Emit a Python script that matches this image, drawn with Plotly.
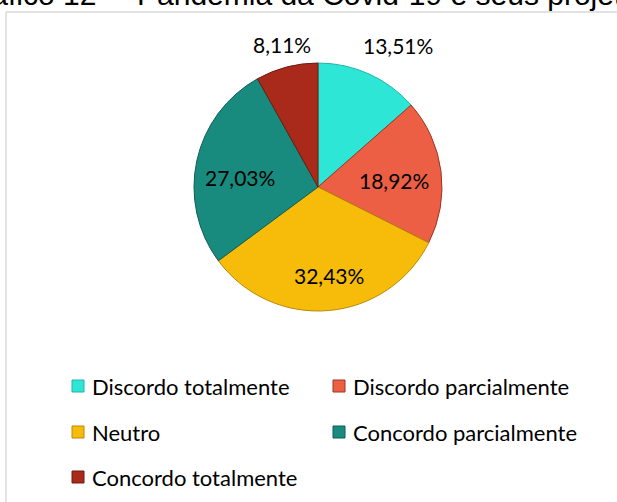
import math
import plotly.graph_objects as go

categories = ["Discordo totalmente", "Discordo parcialmente", "Neutro",
              "Concordo parcialmente", "Concordo totalmente"]
values = [13.51, 18.92, 32.43, 27.03, 8.11]
labels_text = ["13,51%", "18,92%", "32,43%", "27,03%", "8,11%"]
colors = ["#2EE6D6", "#EC5F45", "#F7BC0A", "#198A7E", "#A92A1B"]
edge_colors = ["#1FB5A8", "#9E3524", "#B98A06", "#0F5E55", "#6E1A10"]

W, H = 617, 502
FONT = "Lato"

def px(x):
    return x / W

def py(y):
    return 1 - y / H

cx, cy, r = 318, 187, 124
# label placement: radial distance (fraction of radius) plus a small pixel nudge
label_radius = [1.25, 0.62, 0.73, 0.69, 1.22]
label_nudge = [(16, 0), (0, 3), (3, -2), (6, 9), (2, 4)]

fig = go.Figure()
fig.add_trace(go.Pie(
    labels=categories,
    values=values,
    textinfo="none",
    sort=False,
    direction="clockwise",
    rotation=0,
    marker=dict(colors=colors, line=dict(color=edge_colors, width=1)),
    showlegend=False,
    hoverinfo="label+percent",
    domain=dict(x=[px(cx - r), px(cx + r)], y=[py(cy + r), py(cy - r)]),
))

border = dict(color="#D9D9D9", width=1.5)
shapes = [
    dict(type="line", xref="paper", yref="paper", x0=px(6), x1=1, y0=py(12), y1=py(12), line=border),
    dict(type="line", xref="paper", yref="paper", x0=px(6), x1=px(6), y0=py(12), y1=0, line=border),
]
title_font = dict(family="Liberation Sans", size=30, color="#000000")
annotations = [
    dict(xref="paper", yref="paper", x=px(124), y=py(13), xanchor="right", yanchor="bottom",
         showarrow=False, text="Gráfico 12 –", font=title_font),
    dict(xref="paper", yref="paper", x=px(135), y=py(13), xanchor="left", yanchor="bottom",
         showarrow=False, text="Pandemia da Covid-19 e seus projetos", font=title_font),
]

# data labels placed around the mid-angle of each slice
total = sum(values)
cum = 0.0
for v, t, rf, (nx, ny) in zip(values, labels_text, label_radius, label_nudge):
    mid = (cum + v / 2) / total * 2 * math.pi
    cum += v
    lx = cx + rf * r * math.sin(mid) + nx
    ly = cy - rf * r * math.cos(mid) + ny
    annotations.append(dict(xref="paper", yref="paper", x=px(lx), y=py(ly),
                            xanchor="center", yanchor="middle", showarrow=False,
                            text=t, font=dict(family=FONT, size=21, color="#000000")))

# manual legend (two columns)
leg_x = [72, 333]
leg_y = [386, 432, 477]
sq = 12
for i, name in enumerate(categories):
    col = i % 2
    row = i // 2
    x0 = leg_x[col]
    yc = leg_y[row]
    shapes.append(dict(type="rect", xref="paper", yref="paper",
                       x0=px(x0), x1=px(x0 + sq), y0=py(yc + sq / 2), y1=py(yc - sq / 2),
                       fillcolor=colors[i], line=dict(color=edge_colors[i], width=1)))
    annotations.append(dict(xref="paper", yref="paper", x=px(x0 + sq + 6), y=py(yc),
                            xanchor="left", yanchor="middle", showarrow=False,
                            text=name, font=dict(family=FONT, size=22, color="#000000")))

fig.update_layout(
    width=W, height=H,
    margin=dict(l=0, r=0, t=0, b=0),
    paper_bgcolor="white", plot_bgcolor="white",
    shapes=shapes, annotations=annotations,
)

fig.write_html("out.html", config={"displayModeBar": False},
               post_script="document.body.style.margin='0';document.body.style.overflow='hidden';")
